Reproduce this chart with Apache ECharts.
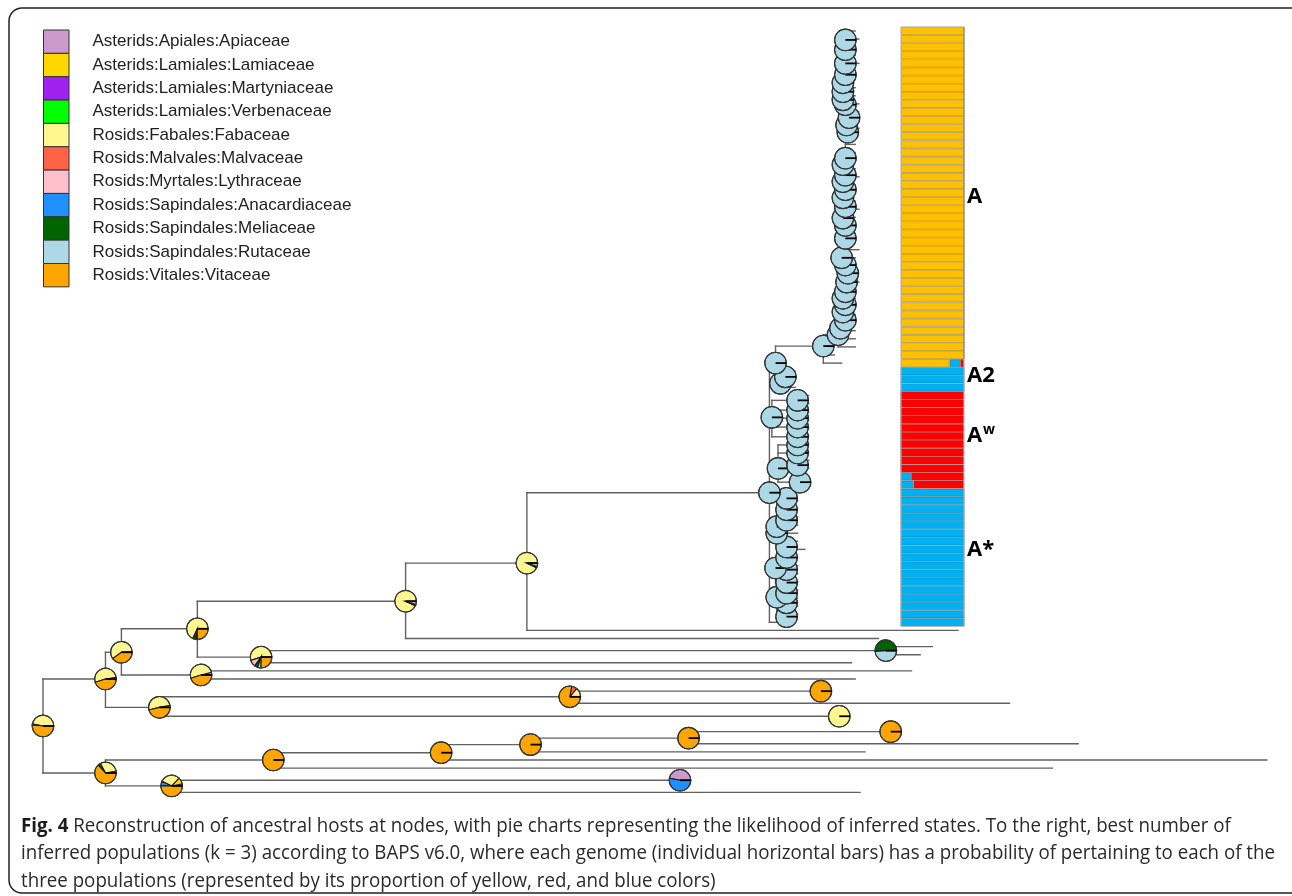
<!DOCTYPE html>
<html><head><meta charset="utf-8">
<script src="https://cdn.jsdelivr.net/npm/echarts@6/dist/echarts.min.js"></script>
<style>html,body{margin:0;padding:0;background:#fff}#c{width:1292px;height:896px}</style>
</head><body><div id="c"></div>
<script>
// ---------- host states (legend) ----------
const stateNames = ['Asterids:Apiales:Apiaceae','Asterids:Lamiales:Lamiaceae','Asterids:Lamiales:Martyniaceae','Asterids:Lamiales:Verbenaceae','Rosids:Fabales:Fabaceae','Rosids:Malvales:Malvaceae','Rosids:Myrtales:Lythraceae','Rosids:Sapindales:Anacardiaceae','Rosids:Sapindales:Meliaceae','Rosids:Sapindales:Rutaceae','Rosids:Vitales:Vitaceae'];
const stateColors = ['#CC99CC','#FFD700','#A020F0','#00FF00','#FFF68F','#FF6347','#FFC0CB','#1E90FF','#006400','#ADD8E6','#FFA500'];

// ---------- ancestral-state likelihoods: [stateIndex, share] ----------
const pieShares = {
  rut: [[9,1]], vit: [[10,1]], fab: [[4,1]],
  root: [[4,0.47],[8,0.015],[10,0.515]],
  A: [[1,0.025],[4,0.525],[10,0.45]],
  B: [[1,0.01],[4,0.59],[10,0.40]],
  C: [[4,0.68],[8,0.05],[9,0.02],[10,0.25]],
  D: [[4,0.93],[8,0.02],[9,0.05]],
  E: [[4,0.93],[8,0.02],[9,0.05]],
  N6: [[4,0.55],[6,0.1],[8,0.05],[9,0.05],[10,0.25]],
  N7: [[1,0.04],[4,0.51],[10,0.45]],
  N8: [[8,0.51],[9,0.49]],
  N9: [[1,0.03],[4,0.51],[10,0.46]],
  N10: [[4,0.14],[5,0.08],[10,0.78]],
  N13: [[1,0.03],[4,0.3],[8,0.04],[10,0.63]],
  N19: [[0,0.03],[1,0.1],[4,0.3],[7,0.07],[10,0.5]],
  N20: [[0,0.47],[7,0.53]]
};

// ---------- tree internal nodes: [id, parent, depth, row, pie] ----------
const spineNodes = [
  ['root', null, 0, 85.8, 'root'],
  ['A', 'root', 5.1, 80.0, 'A'],
  ['N13', 'root', 5.1, 91.6, 'N13'],
  ['B', 'A', 6.4, 76.7, 'B'],
  ['N9', 'A', 9.5, 83.5, 'N9'],
  ['C', 'B', 12.6, 73.8, 'C'],
  ['N7', 'B', 12.9, 79.5, 'N7'],
  ['D', 'C', 29.6, 70.4, 'D'],
  ['N6', 'C', 17.8, 77.3, 'N6'],
  ['E', 'D', 39.5, 65.7, 'E'],
  ['N8', 'N6', 68.8, 76.5, 'N8'],
  ['N10', 'N9', 43.0, 82.2, 'N10'],
  ['N11', 'N10', 63.5, 81.5, 'vit'],
  ['N12', 'N9', 65.0, 84.6, 'fab'],
  ['N14', 'N13', 18.8, 90.0, 'vit'],
  ['N15', 'N14', 32.5, 89.1, 'vit'],
  ['N16', 'N15', 39.8, 88.1, 'vit'],
  ['N17', 'N16', 52.7, 87.3, 'vit'],
  ['N18', 'N17', 69.2, 86.5, 'vit'],
  ['N19', 'N13', 10.5, 93.2, 'N19'],
  ['N20', 'N19', 52.0, 92.5, 'N20']
];
const cladeTopNodes = [
  ['R0','E',59.3,57.0,'rut'], ['U','R0',59.8,41.0,'rut'], ['T','U',63.7,38.9,'rut'],
  ['p32','T',64.9,37.5,'rut'], ['p31','p32',65.1,36.7,'rut'], ['p30','p31',65.5,35.7,'rut'],
  ['p29','p30',65.3,34.7,'rut'], ['p28','p29',65.5,33.8,'rut'], ['p27','p28',65.3,33.0,'rut'],
  ['p26','p27',65.5,32.2,'rut'], ['p25','p26',65.6,31.0,'rut'], ['p24','p25',65.7,29.9,'rut'],
  ['p23','p24',65.5,28.9,'rut'], ['p22','p23',65.2,28.0,'rut'], ['p21','p22',65.5,25.6,'rut'],
  ['p20','p21',65.5,24.0,'rut'], ['p19','p20',65.3,23.1,'rut'], ['p18','p19',65.5,21.7,'rut'],
  ['p17','p18',65.3,20.6,'rut'], ['p16','p17',65.5,19.6,'rut'], ['p15','p16',65.3,18.6,'rut'],
  ['p14','p15',65.5,17.8,'rut'], ['p13','p14',65.3,16.5,'rut'], ['p12','p13',65.5,15.7,'rut'],
  ['p11','p12',65.7,12.5,'rut'], ['p10','p11',65.6,11.6,'rut'], ['p9','p10',65.8,10.7,'rut'],
  ['p8','p9',65.5,9.1,'rut'], ['p7','p8',65.3,8.5,'rut'], ['p6','p7',65.3,7.5,'rut'],
  ['p5','p6',65.3,6.4,'rut'], ['p4','p5',65.5,5.4,'rut'], ['p3','p4',65.5,4.0,'rut'],
  ['p2','p3',65.5,2.3,'rut'], ['p1','p2',65.5,1.1,'rut']
];
const cladeLowNodes = [
  ['c','U',60.2,43.5,'rut'], ['b','c',60.6,42.7,'rut'],
  ['d','R0',59.5,47.7,'rut'], ['f','R0',60.0,54.0,'rut'],
  ['e1','d',61.6,45.6,'rut'], ['e2','d',61.6,46.8,'rut'], ['e3','d',61.6,47.8,'rut'],
  ['e4','d',61.6,48.9,'rut'], ['e5','d',61.6,50.1,'rut'], ['e6','f',61.6,51.1,'rut'],
  ['e7','f',61.6,52.1,'rut'], ['e8','f',61.6,53.6,'rut'], ['e9','f',61.8,55.7,'rut'],
  ['g1','R0',59.9,61.2,'rut'], ['g2','R0',59.9,62.0,'rut'], ['g3','R0',59.8,66.3,'rut'], ['g4','R0',59.9,69.9,'rut'],
  ['h1','g1',60.7,57.7,'rut'], ['h2','g1',60.7,59.1,'rut'], ['h3','g1',60.7,60.4,'rut'],
  ['h4','g2',60.7,63.7,'rut'], ['h5','g2',60.7,65.0,'rut'], ['h6','g3',60.7,66.5,'rut'],
  ['h7','g3',60.7,68.1,'rut'], ['h8','g4',60.7,69.4,'rut'], ['h9','g4',60.7,70.6,'rut'],
  ['h10','g4',60.7,72.3,'rut']
];

// ---------- tips (row = index) ----------
const tipParent = [
  'p1','p1','p2','p3','p3','p4','p5','p6','p7','p8','p9','p10','p11','p11','p12','p12','p13','p14','p15','p16',
  'p17','p18','p19','p19','p20','p21','p21','p22','p22','p23','p24','p25','p26','p27','p28','p29','p30','p31','p32','p32',
  'T','T','b','b','c',
  'e1','e1','e2','e3','e4','e5','e6','e7','e8','e8','e9','e9',
  'h1','h1','h2','h3','h3','g2','h4','h4','h5','g3','h6','h7','h8','h9','h9','h10','R0',
  'E','D','N8','N8','N6','N7','N7','N11','N11','N10','N12','N12','N18','N18','N17','N16','N15','N14','N20','N20','N19'
];
const tipDepth = [
  66.3,66.6,66.3,66.3,66.6,66.3,66.3,66.3,66.3,66.6,66.6,66.3,66.6,66.3,66.3,66.3,66.3,66.3,66.6,66.3,
  66.3,66.3,66.6,66.3,66.3,66.3,66.3,66.6,66.3,66.3,66.3,66.6,66.3,66.3,66.3,66.3,66.3,66.3,66.3,66.3,
  64.6,65.2,61.4,61.4,61.4,
  62.5,62.5,62.5,62.5,62.5,62.5,62.5,62.5,62.5,62.5,62.5,62.5,
  61.6,61.6,61.6,61.6,61.6,61.6,61.6,62.2,61.6,61.6,61.6,61.6,61.6,61.6,61.6,61.6,61.4,
  74.7,68.2,72.6,71.6,66.0,70.9,66.3,64.1,64.2,78.9,65.6,65.7,69.8,70.0,84.5,67.1,99.9,82.4,52.5,52.7,66.7
];

// ---------- BAPS populations (k = 3), one row per genome ----------
const popYellow = [1,1,1,1,1,1,1,1,1,1, 1,1,1,1,1,1,1,1,1,1, 1,1,1,1,1,1,1,1,1,1, 1,1,1,1,1,1,1,1,1,1,
  1,0.77,0,0,0,0,0,0,0,0, 0,0,0,0,0,0,0,0,0,0, 0,0,0,0,0,0,0,0,0,0, 0,0,0,0];
const popBlue = [0,0,0,0,0,0,0,0,0,0, 0,0,0,0,0,0,0,0,0,0, 0,0,0,0,0,0,0,0,0,0, 0,0,0,0,0,0,0,0,0,0,
  0,0.17,1,1,1,0,0,0,0,0, 0,0,0,0,0,0.16,0.2,1,1,1, 1,1,1,1,1,1,1,1,1,1, 1,1,1,1];
const popRed = [0,0,0,0,0,0,0,0,0,0, 0,0,0,0,0,0,0,0,0,0, 0,0,0,0,0,0,0,0,0,0, 0,0,0,0,0,0,0,0,0,0,
  0,0.06,0,0,0,1,1,1,1,1, 1,1,1,1,1,0.84,0.8,0,0,0, 0,0,0,0,0,0,0,0,0,0, 0,0,0,0];
const groupNames = ['A','A2','A','A*'];
const groupSup = ['','','w',''];
const groupRow = [20.5,42.6,50.0,64.1];

const captionLines = [
  ['Fig. 4', ' Reconstruction of ancestral hosts at nodes, with pie charts representing the likelihood of inferred states. To the right, best number of'],
  ['', 'inferred populations (k = 3) according to BAPS v6.0, where each genome (individual horizontal bars) has a probability of pertaining to each of the'],
  ['', 'three populations (represented by its proportion of yellow, red, and blue colors)']
];

// ---------- build tree geometry from the data ----------
const allNodes = [...spineNodes, ...cladeTopNodes, ...cladeLowNodes].map(a => ({id:a[0], parent:a[1], depth:a[2], row:a[3], pie:a[4]}));
const byId = {}; allNodes.forEach(n => byId[n.id] = n);
const kids = {}; const edges = [];
allNodes.forEach(n => { if (n.parent) { (kids[n.parent] = kids[n.parent] || []).push(n.row); edges.push([byId[n.parent].depth, n.row, n.depth, n.row]); } });
tipParent.forEach((p, r) => { (kids[p] = kids[p] || []).push(r); edges.push([byId[p].depth, r, tipDepth[r], r]); });
allNodes.forEach(n => { const rs = (kids[n.id] || []).concat([n.row]); edges.push([n.depth, Math.min(...rs), n.depth, Math.max(...rs)]); });
const pieList = allNodes.slice().sort((a, b) => b.row - a.row);
const PIE_R = 10.8;

const chart = echarts.init(document.getElementById('c'), null, {renderer: 'canvas'});
const rowCats = popYellow.map((v, i) => 'genome ' + (i + 1));
const barBorder = 'rgba(70,70,70,0.5)';

const option = {
  animation: false,
  backgroundColor: '#ffffff',
  grid: [
    {left: 43, top: 26.95, width: 1225, height: 769.5, containLabel: false},
    {left: 901, top: 26.95, width: 63, height: 599.4, show: true, borderColor: '#b5b5b5', borderWidth: 1, backgroundColor: 'transparent', z: 5}
  ],
  xAxis: [
    {type: 'value', gridIndex: 0, min: 0, max: 100, show: false},
    {type: 'value', gridIndex: 1, min: 0, max: 1, show: false}
  ],
  yAxis: [
    {type: 'value', gridIndex: 0, min: -0.5, max: 94.5, inverse: true, show: false},
    {type: 'category', gridIndex: 1, data: rowCats, inverse: true, show: false}
  ],
  series: [
    {
      type: 'custom', name: 'branches', xAxisIndex: 0, yAxisIndex: 0, silent: true, z: 2,
      data: edges, encode: {x: [0, 2], y: [1, 3]},
      renderItem: (params, api) => {
        const p1 = api.coord([api.value(0), api.value(1)]);
        const p2 = api.coord([api.value(2), api.value(3)]);
        return {type: 'line', shape: {x1: p1[0], y1: p1[1], x2: p2[0], y2: p2[1]},
          style: {stroke: '#626262', lineWidth: 1.4, lineCap: 'square'}};
      }
    },
    {
      type: 'custom', name: 'ancestral states', xAxisIndex: 0, yAxisIndex: 0, silent: true, z: 4,
      data: pieList.map(n => [n.depth, n.row]),
      renderItem: (params, api) => {
        const n = pieList[params.dataIndex];
        const c = api.coord([api.value(0), api.value(1)]);
        const shares = pieShares[n.pie];
        const children = [];
        let cum = 0;
        shares.forEach(([s, v]) => {
          const a1 = cum * Math.PI * 2, a2 = (cum + v) * Math.PI * 2; cum += v;
          children.push({type: 'sector', shape: {cx: c[0], cy: c[1], r0: 0, r: PIE_R, startAngle: -a2, endAngle: -a1, clockwise: true},
            style: {fill: stateColors[s], stroke: '#1a1a1a', lineWidth: 1.1}});
        });
        children.push({type: 'circle', shape: {cx: c[0], cy: c[1], r: PIE_R}, style: {fill: null, stroke: '#3c3c3c', lineWidth: 1}});
        children.push({type: 'line', shape: {x1: c[0], y1: c[1], x2: c[0] + PIE_R, y2: c[1]}, style: {stroke: '#000', lineWidth: 1.8}});
        return {type: 'group', children};
      }
    },
    {type: 'bar', name: 'yellow', xAxisIndex: 1, yAxisIndex: 1, stack: 'pop', barWidth: '100%', barCategoryGap: '0%', data: popYellow,
      itemStyle: {color: '#FFC000', borderColor: barBorder, borderWidth: 0.6}, silent: true},
    {type: 'bar', name: 'blue', xAxisIndex: 1, yAxisIndex: 1, stack: 'pop', barWidth: '100%', data: popBlue,
      itemStyle: {color: '#00B0F0', borderColor: barBorder, borderWidth: 0.6}, silent: true},
    {type: 'bar', name: 'red', xAxisIndex: 1, yAxisIndex: 1, stack: 'pop', barWidth: '100%', data: popRed,
      itemStyle: {color: '#FF0000', borderColor: barBorder, borderWidth: 0.6}, silent: true}
  ]
};
chart.setOption(option);

// ---------- legend, labels, caption, frame ----------
const gfx = [];
gfx.push({type: 'rect', shape: {x: 9, y: 8, width: 1310, height: 885, r: 13}, style: {fill: null, stroke: '#222', lineWidth: 1.5}, z: 1, silent: true});
const LG_TOP = 30, LG_H = 23.35;
stateNames.forEach((name, i) => {
  gfx.push({type: 'rect', shape: {x: 43.5, y: LG_TOP + i * LG_H, width: 25.5, height: LG_H}, style: {fill: stateColors[i], stroke: '#333', lineWidth: 1}, z: 10, silent: true});
  gfx.push({type: 'text', x: 92.5, y: LG_TOP + i * LG_H + LG_H / 2, style: {text: name, fill: '#222', font: '17px "Liberation Sans", Arial, sans-serif', verticalAlign: 'middle', align: 'left'}, z: 10, silent: true});
});
groupNames.forEach((g, i) => {
  const y = chart.convertToPixel({yAxisIndex: 0}, groupRow[i]);
  gfx.push({type: 'text', x: 967, y: y, style: {text: g, fill: '#000', font: 'bold 22px "Open Sans", "DejaVu Sans", sans-serif', verticalAlign: 'middle', align: 'left'}, z: 10, silent: true});
  if (groupSup[i]) {
    gfx.push({type: 'text', x: 983, y: y - 6, style: {text: groupSup[i], fill: '#000', font: 'bold 14px "Open Sans", "DejaVu Sans", sans-serif', verticalAlign: 'middle', align: 'left'}, z: 10, silent: true});
  }
});

// caption: condensed look obtained by a horizontal squeeze of Open Sans, fitted to the caption block width
const CAP_FONT_R = '20px "Open Sans", sans-serif';
const CAP_FONT_B = 'bold 20px "Open Sans", sans-serif';
const CAP_X = 21, CAP_Y = [826, 853.5, 881], CAP_WIDEST = 1254;
const mctx = document.createElement('canvas').getContext('2d');
const lineWidthPx = ln => { mctx.font = CAP_FONT_B; const wb = mctx.measureText(ln[0]).width; mctx.font = CAP_FONT_R; return wb + mctx.measureText(ln[1]).width; };
const capScale = CAP_WIDEST / Math.max(...captionLines.map(lineWidthPx));
captionLines.forEach((ln, i) => {
  gfx.push({type: 'text', x: CAP_X, y: CAP_Y[i], scaleX: capScale, style: {
    text: (ln[0] ? '{b|' + ln[0] + '}' : '') + '{r|' + ln[1] + '}',
    verticalAlign: 'middle', align: 'left',
    rich: {
      b: {font: CAP_FONT_B, fill: '#1b1b1b'},
      r: {font: CAP_FONT_R, fill: '#2a2a2a'}
    }}, z: 10, silent: true});
});
chart.setOption({graphic: gfx});
</script></body></html>
